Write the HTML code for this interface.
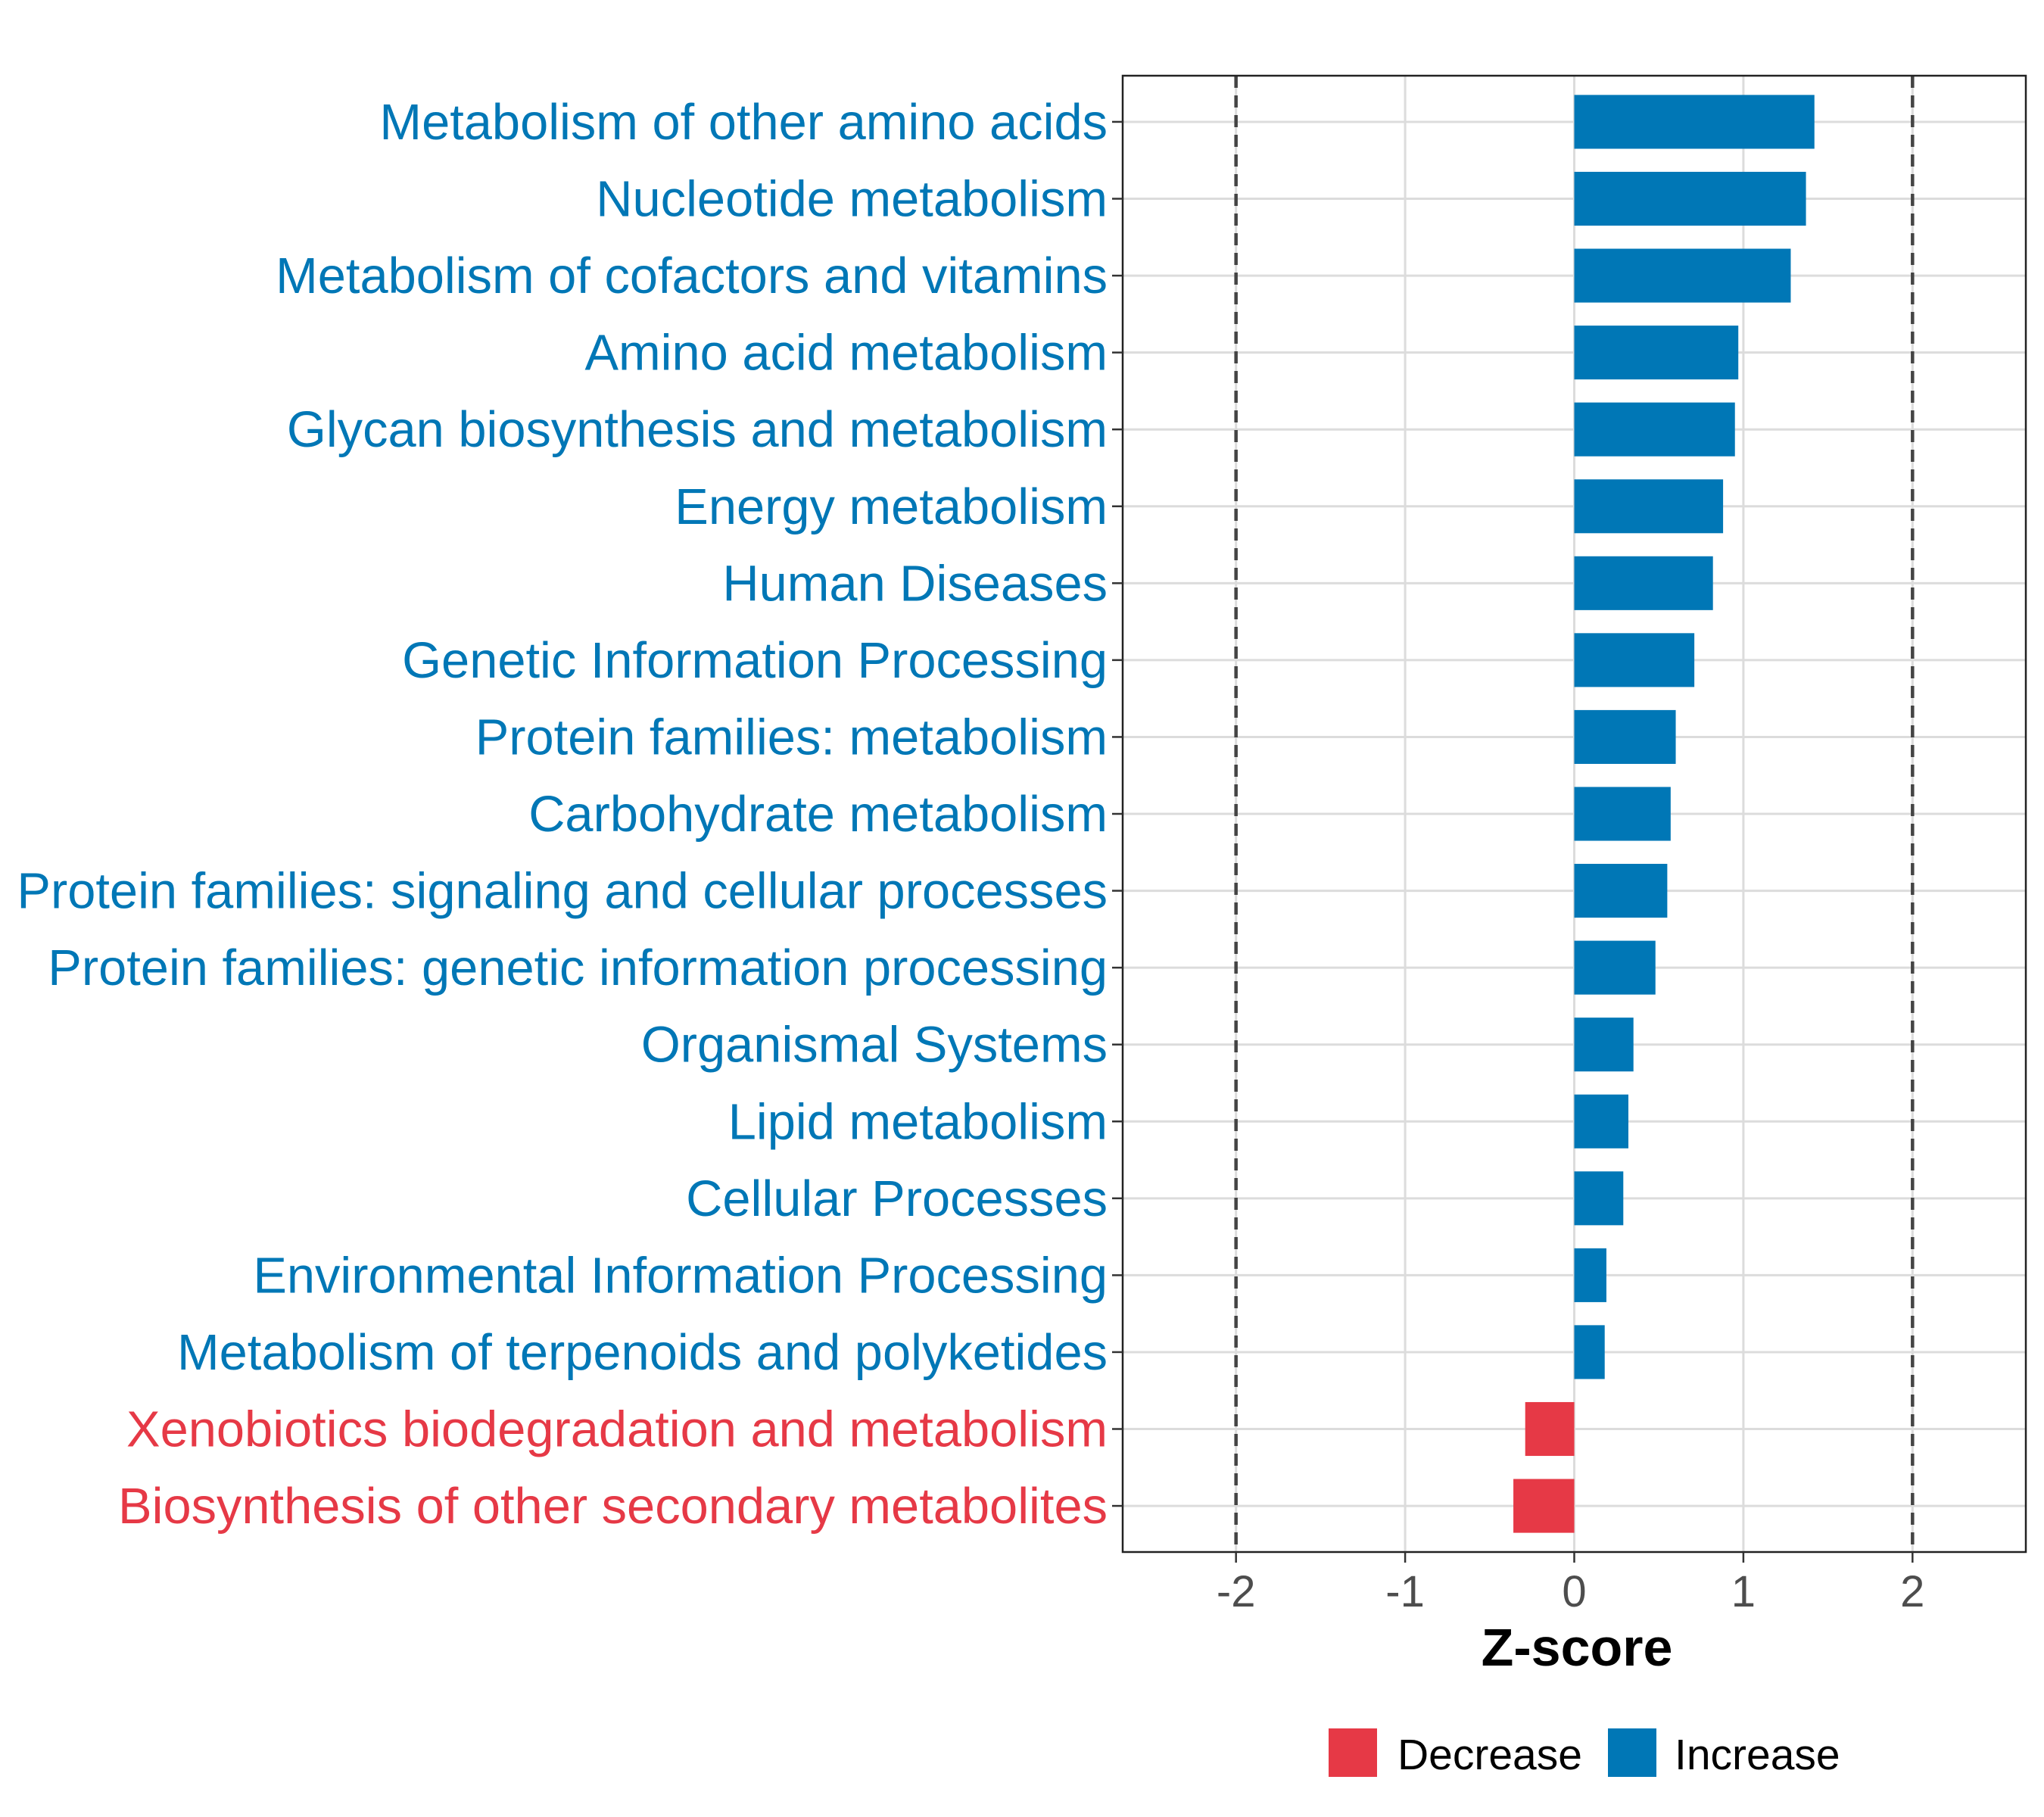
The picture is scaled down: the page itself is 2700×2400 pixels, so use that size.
<!DOCTYPE html>
<html><head><meta charset="utf-8"><style>
html,body{margin:0;padding:0;background:#fff}
svg{display:block;font-family:"Liberation Sans",Arial,sans-serif}
</style></head><body>
<svg id="chart" width="2700" height="2400" viewBox="0 0 2700 2400">
<g id="grid"></g>
<g id="bars"></g>
<g id="refs"></g>
<rect x="1483" y="100" width="1193" height="1950" fill="none" stroke="#222" stroke-width="2.5"/>
<g id="ylabels"></g>
<g id="xticks"></g>
<text x="2083" y="2200" text-anchor="middle" font-size="70" font-weight="bold" fill="#000">Z-score</text>
<g>
<rect x="1755" y="2283" width="64" height="64" fill="#E63946"/>
<text x="1846" y="2337" font-size="57" fill="#000">Decrease</text>
<rect x="2124" y="2283" width="64" height="64" fill="#0077B6"/>
<text x="2212" y="2337" font-size="57" fill="#000">Increase</text>
</g>
</svg>
<script>
const categories = ["Metabolism of other amino acids","Nucleotide metabolism","Metabolism of cofactors and vitamins","Amino acid metabolism","Glycan biosynthesis and metabolism","Energy metabolism","Human Diseases","Genetic Information Processing","Protein families: metabolism","Carbohydrate metabolism","Protein families: signaling and cellular processes","Protein families: genetic information processing","Organismal Systems","Lipid metabolism","Cellular Processes","Environmental Information Processing","Metabolism of terpenoids and polyketides","Xenobiotics biodegradation and metabolism","Biosynthesis of other secondary metabolites"];
const zscores = [1.42,1.37,1.28,0.97,0.95,0.88,0.82,0.71,0.60,0.57,0.55,0.48,0.35,0.32,0.29,0.19,0.18,-0.29,-0.36];
const xTicks = [-2,-1,0,1,2];
const refLines = [-2,2];
const NS="http://www.w3.org/2000/svg";
const X0=1483,X1=2676,Y0=100,Y1=2050,DMIN=-2.67,DMAX=2.67;
function xs(v){return X0+(v-DMIN)/(DMAX-DMIN)*(X1-X0);}
const step=(Y1-Y0)/(categories.length+0.2);
function ys(i){return Y0+step*0.6+i*step;}
function mk(tag,attrs,parent){const e=document.createElementNS(NS,tag);for(const k in attrs)e.setAttribute(k,attrs[k]);parent.appendChild(e);return e;}
const grid=document.getElementById('grid'),bars=document.getElementById('bars'),refs=document.getElementById('refs'),yl=document.getElementById('ylabels'),xt=document.getElementById('xticks');
xTicks.forEach(t=>{
 const l=mk('line',{x1:xs(t),x2:xs(t),y1:Y0,y2:Y1,stroke:'#dcdcdc','stroke-width':3},grid);
 
 
 const tk=mk('line',{x1:xs(t),x2:xs(t),y1:Y1,y2:Y1+14,stroke:'#333','stroke-width':2.5},xt);
 
 
 const tx=mk('text',{x:xs(t),y:2122,'text-anchor':'middle','font-size':58,fill:'#4d4d4d'},xt);
 tx.textContent=t<0?'-'+Math.abs(t):String(t);
 
 
});
categories.forEach((c,i)=>{
 const y=ys(i),v=zscores[i],col=v<0?'#E63946':'#0077B6';
 const g=mk('line',{x1:X0,x2:X1,y1:y,y2:y,stroke:'#dcdcdc','stroke-width':3},grid);
 
 
 const h=step*0.7;
 const r=mk('rect',{x:Math.min(xs(0),xs(v)),y:y-h/2,width:Math.abs(xs(v)-xs(0)),height:h,fill:col},bars);
 
 
 const tk=mk('line',{x1:X0-14,x2:X0,y1:y,y2:y,stroke:'#333','stroke-width':2.5},yl);
 
 
 const t=mk('text',{x:1463,y:y+23,'text-anchor':'end','font-size':66.8,fill:col},yl);
 t.textContent=c;
 
 
});
refLines.forEach(v=>{
 const l=mk('line',{x1:xs(v),x2:xs(v),y1:Y0,y2:Y1,stroke:'#444','stroke-width':4.5,'stroke-dasharray':'16,10'},refs);
 
 
});
</script>
</body></html>
